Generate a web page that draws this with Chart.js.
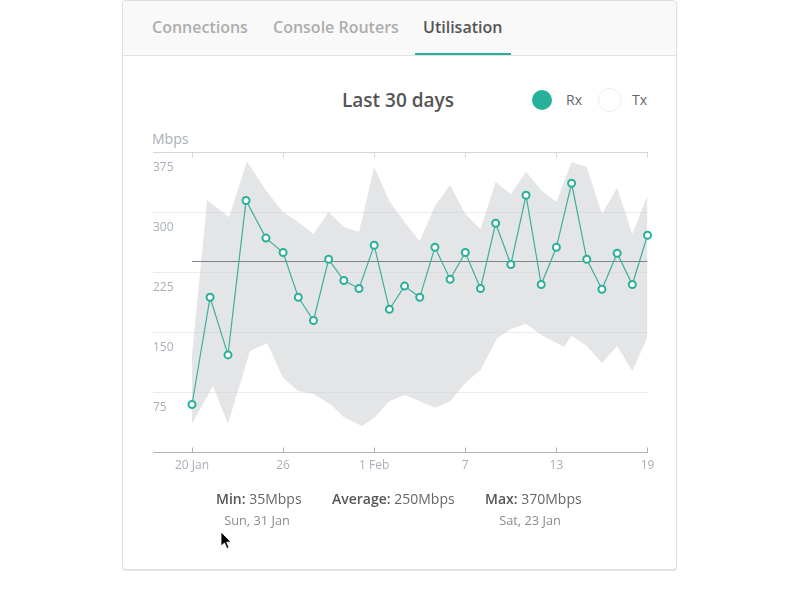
<!DOCTYPE html>
<html>
<head>
<meta charset="utf-8">
<title>Utilisation</title>
<script src="https://cdn.jsdelivr.net/npm/chart.js@4"></script>
<style>
    html, body { margin: 0; padding: 0; background: #fff; }
    body { width: 800px; height: 600px; position: relative; overflow: hidden; font-family: "Open Sans", sans-serif; color: #555; }
    .card { position: absolute; left: 122px; top: 0; width: 553px; height: 568px; background: #fff; border: 1px solid #dedede; border-radius: 4px; box-shadow: 0 1px 1px #e6e6e6; }
    .tabs { position: absolute; left: 0; top: 0; width: 553px; height: 54px; background: #f9f9f9; border-bottom: 1px solid #e2e2e2; border-radius: 4px 4px 0 0; }
    .tab { position: absolute; top: 15px; font-size: 16px; font-weight: 600; line-height: 22px; color: #adadad; white-space: nowrap; }
    .tab.active { color: #555; }
    .underline { position: absolute; left: 292px; top: 52px; width: 96px; height: 2px; background: #27b09a; }
    .abs { position: absolute; white-space: nowrap; }
    .title { left: 342px; top: 86px; font-size: 19px; font-weight: 600; line-height: 28px; color: #555; }
    .dot { position: absolute; border-radius: 50%; box-sizing: border-box; }
    .key { font-size: 14px; line-height: 18px; color: #666; top: 91px; }
    .unit { left: 152px; top: 129px; font-size: 14px; line-height: 20px; color: #a9afb7; }
    .stat { font-size: 14px; line-height: 20px; top: 489px; color: #666; }
    .stat b { font-weight: 600; color: #555; }
    .when { font-size: 12.8px; line-height: 18px; top: 511px; color: #8c8c8c; transform: translateX(-50%); }
    #wrap { position: absolute; left: 153px; top: 140px; width: 509px; height: 350px; }
    #cursor { position: absolute; left: 220px; top: 531px; }
</style>
</head>
<body>
<div class="card">
    <div class="tabs">
        <div class="tab" style="left:29px">Connections</div>
        <div class="tab" style="left:150px">Console Routers</div>
        <div class="tab active" style="left:300px">Utilisation</div>
        <div class="underline"></div>
    </div>
</div>
<div class="abs title">Last 30 days</div>
<div class="dot" style="left:532px;top:90px;width:20px;height:20px;background:#27b09a"></div>
<div class="abs key" style="left:566px">Rx</div>
<div class="dot" style="left:598px;top:88px;width:24px;height:24px;background:#fff;border:1px solid #eee"></div>
<div class="abs key" style="left:632px">Tx</div>
<div class="abs unit">Mbps</div>
<div id="wrap"><canvas id="utilChart"></canvas></div>
<div class="abs stat" style="left:216px"><b>Min:</b> 35Mbps</div>
<div class="abs stat" style="left:332px"><b>Average:</b> 250Mbps</div>
<div class="abs stat" style="left:485px"><b>Max:</b> 370Mbps</div>
<div class="abs when" style="left:257px">Sun, 31 Jan</div>
<div class="abs when" style="left:530px">Sat, 23 Jan</div>
<svg id="cursor" width="12" height="19" viewBox="0 0 12 19"><path d="M1 1 L1 15 L4.5 12 L7 17.5 L9 16.5 L6.7 11.2 L11 11 Z" fill="#000" stroke="#fff" stroke-width="0.8"/></svg>

<script>
const tickLabels = ['20 Jan', '26', '1 Feb', '7', '13', '19'];
const yTicks = [0, 75, 150, 225, 300, 375];

// Rx line
const rxDays = [0, 1.19, 2.37, 3.56, 4.87, 6, 7, 8, 9, 10, 11, 12, 13, 14, 15, 16, 17, 18, 19, 20, 21, 22, 23, 24, 25, 26, 27, 28, 29, 30];
const rxValues = [60, 194, 122, 315, 268, 250, 194, 165, 241.5, 215, 205, 259, 179, 208, 194, 256.5, 216.5, 250, 205, 286.5, 235, 321.5, 210, 256.5, 336.5, 241.5, 204, 249, 210, 271.5];

// grey band, its corners do not line up with the Rx points
const upperDays = [0, 1, 2.44, 3.62, 4.94, 6, 7, 8, 9, 10, 11, 12, 13, 14, 15, 16, 17, 18, 19, 20, 21, 22, 23, 24, 25, 26, 27, 28, 29, 30];
const upperValues = [122, 315.6, 294, 364, 325.6, 300.6, 288, 273, 300.6, 282, 275.6, 357, 314, 288, 264, 308, 334, 298, 279, 338, 323, 350.6, 328, 313, 363, 357, 298, 330.6, 273, 322];
const lowerDays = [0, 1.38, 2.37, 3.82, 4.94, 6, 7, 8, 9.2, 10, 11.2, 12.05, 13, 14, 15, 16, 17, 18, 19, 20.1, 21, 22, 23, 24.5, 25, 26, 27, 28, 29, 30];
const lowerValues = [36, 83, 36, 127, 137, 93, 77, 73, 59, 44, 33, 44, 64, 72, 64, 56, 64, 87, 103, 143, 154, 161, 147, 132, 146, 133, 112, 133, 102, 144];

const avgDays = [0, 30];
const avgValues = [238.75, 238.75];

function toPoints(xs, ys) {
    return xs.map((x, i) => ({ x: x, y: ys[i] }));
}

// labels may hang over the chart area, so no room is kept for them
function noPadding(scale) {
    scale.paddingTop = 0;
    scale.paddingBottom = 0;
    scale.paddingLeft = 0;
    scale.paddingRight = 0;
}

const ctx = document.getElementById('utilChart').getContext('2d');
new Chart(ctx, {
    type: 'line',
    data: {
        datasets: [{
            label: 'Rx',
            data: toPoints(rxDays, rxValues),
            borderColor: '#3fae9c',
            borderWidth: 1.2,
            pointRadius: 3.5,
            pointBorderWidth: 2,
            pointBackgroundColor: '#fff',
            pointBorderColor: '#2ab09a',
            fill: false,
            clip: false
        }, {
            label: 'Average',
            data: toPoints(avgDays, avgValues),
            borderColor: '#7d848c',
            borderWidth: 1,
            pointRadius: 0,
            fill: false
        }, {
            label: 'Upper',
            data: toPoints(upperDays, upperValues),
            borderWidth: 0,
            borderColor: 'transparent',
            backgroundColor: 'rgba(205, 207, 211, 0.55)',
            pointRadius: 0,
            fill: '+1'
        }, {
            label: 'Lower',
            data: toPoints(lowerDays, lowerValues),
            borderWidth: 0,
            borderColor: 'transparent',
            pointRadius: 0,
            fill: false
        }]
    },
    options: {
        responsive: true,
        maintainAspectRatio: false,
        animation: false,
        layout: { padding: { top: 12.5, right: 14.5, left: 0, bottom: 0 } },
        elements: { line: { tension: 0 } },
        events: [],
        scales: {
            x: {
                type: 'linear',
                position: 'bottom',
                min: 0,
                max: 30,
                border: { color: '#adb3ba' },
                grid: { drawOnChartArea: false, tickLength: -5, tickColor: '#adb3ba' },
                ticks: {
                    stepSize: 6,
                    padding: 11,
                    maxRotation: 0,
                    color: '#a9afb7',
                    font: { family: 'Open Sans', size: 12 },
                    callback: v => tickLabels[v / 6]
                },
                afterFit: scale => { scale.height = 37.5; noPadding(scale); }
            },
            xTop: {
                type: 'linear',
                axis: 'x',
                position: 'top',
                min: 0,
                max: 30,
                border: { color: '#d6d6d6' },
                grid: { drawOnChartArea: false, tickLength: -5, tickColor: '#d6d6d6' },
                ticks: { stepSize: 6, display: false },
                afterFit: scale => { scale.height = 0; noPadding(scale); }
            },
            y: {
                min: 0,
                max: 375,
                border: { display: false },
                grid: {
                    tickLength: 39,
                    color: c => c.tick.value === 0 ? 'transparent' : (c.tick.value === 375 ? '#d6d6d6' : '#e9eaef'),
                    tickColor: c => c.tick.value === 0 ? '#adb3ba' : (c.tick.value === 375 ? '#d6d6d6' : '#e9eaef')
                },
                afterBuildTicks: scale => { scale.ticks = yTicks.map(v => ({ value: v })); },
                ticks: {
                    autoSkip: false,
                    crossAlign: 'far',
                    padding: 0,
                    color: '#a9afb7',
                    // label sits under its grid line, so an empty first line pushes it down
                    font: { family: 'Open Sans', size: 12, lineHeight: 2.5 },
                    callback: v => v === 0 ? '' : ['', String(v)]
                },
                afterFit: scale => { scale.width = 39; noPadding(scale); }
            }
        },
        plugins: {
            legend: { display: false },
            title: { display: false },
            tooltip: { enabled: false }
        }
    }
});
</script>
</body>
</html>
